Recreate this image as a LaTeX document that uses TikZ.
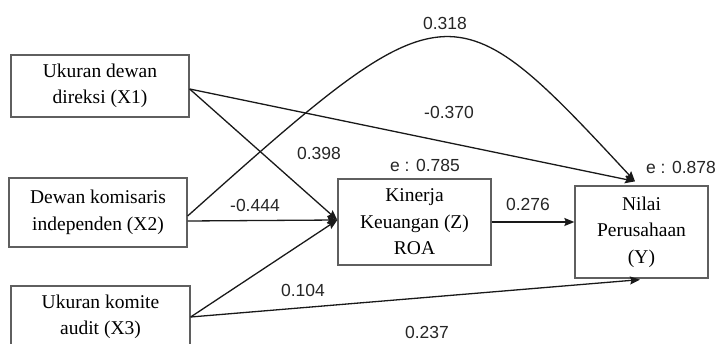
\documentclass[tikz,border=0pt]{standalone}
\usepackage{fontspec}
\setmainfont{Liberation Serif}
\newfontfamily\numfont{Liberation Sans}
\usetikzlibrary{arrows.meta}

\begin{document}
\begin{tikzpicture}[x=1pt,y=-1pt,
  varbox/.style={draw={rgb,255:red,95;green,95;blue,95}, line width=1.3pt,
    align=center, inner sep=0pt, font=\fontsize{19.5}{26.5}\selectfont},
  link/.style={draw=black!90, line width=1.3pt,
    -{Stealth[length=10pt,width=8pt,inset=1.5pt]}},
  coef/.style={inner sep=0pt, font=\numfont\fontsize{17.5}{20}\selectfont, text=black!85}
]
\useasboundingbox (0,0) rectangle (718,344);
\clip (0,0) rectangle (718,344);

% variables
\node[varbox, minimum width=178pt, minimum height=62pt] (x1) at (100,86)
  {Ukuran dewan\\direksi (X1)};
\node[varbox, minimum width=178pt, minimum height=69pt] (x2) at (98,212.5)
  {Dewan komisaris\\independen (X2)};
\node[varbox, minimum width=179pt, minimum height=62pt] (x3) at (100.5,317)
  {Ukuran komite\\audit (X3)};
\node[varbox, minimum width=153pt, minimum height=86pt] (z) at (414.5,222)
  {Kinerja\\Keuangan (Z)\\ROA};
\node[varbox, minimum width=133pt, minimum height=92pt] (y) at (641.5,232)
  {Nilai\\Perusahaan\\(Y)};

% connector ends
\coordinate (s1) at ([yshift=-3pt]x1.east);
\coordinate (s2) at ([yshift=-8.5pt]x2.east);
\coordinate (s2c) at ([yshift=-3.5pt]x2.east);
\coordinate (tz) at ([yshift=2pt]z.west);
\coordinate (tyt) at ([xshift=-6.5pt,yshift=4pt]y.north);
\coordinate (tyb) at ([xshift=-1.5pt,yshift=-1pt]y.south);

% paths
\draw[link] (s1) -- (tyt);
\draw[link] (s1) -- (tz);
\draw[link] (s2) -- (tz);
\draw[link] (x3.east) -- (tz);
\draw[link] (x3.east) -- (tyb);
\draw[link] (z.east) -- (y.west |- z.east);
\draw[link] (s2c) .. controls (447.5,-16) and (451.8,-16) .. (tyt);

% coefficients
\node[coef] (c318) at (445,23) {0.318};
\node[coef] (c370) at (449,112) {-0.370};
\node[coef] (ez) at (425,165) {e : 0.785};
\node[coef] (ey) at (681,167) {e : 0.878};
\node[coef] (c398) at (319,153) {0.398};
\node[coef] (c444) at (255,205) {-0.444};
\node[coef] (c104) at (303,290) {0.104};
\node[coef] (c276) at (528,204) {0.276};
\node[coef] (c237) at (427,332) {0.237};
\end{tikzpicture}
\end{document}
